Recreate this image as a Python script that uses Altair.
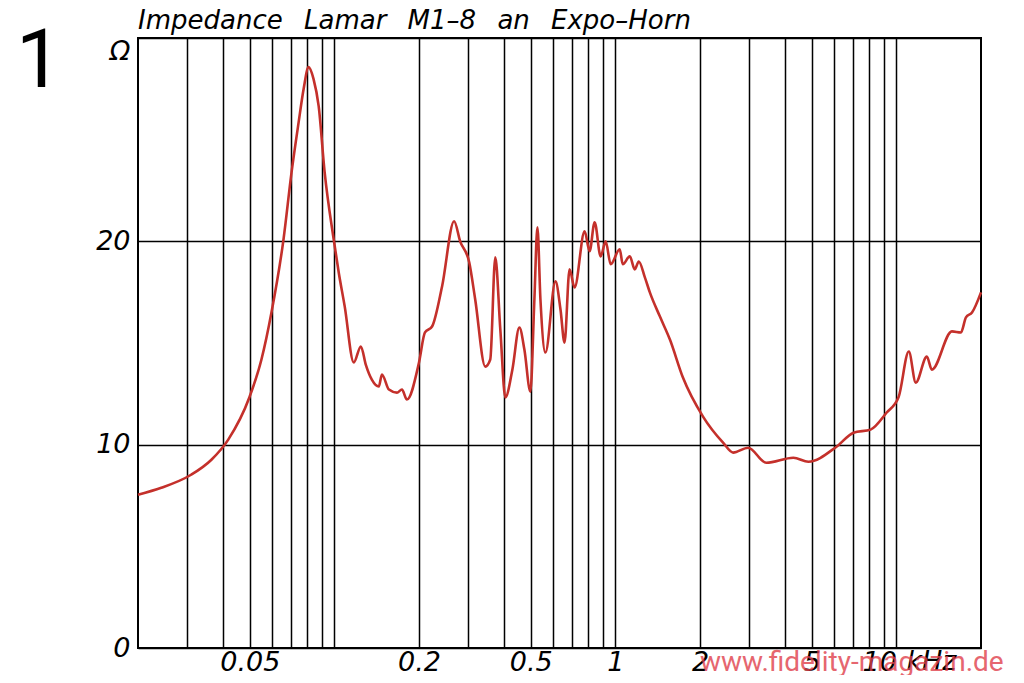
import altair as alt
import pandas as pd

# Frequency in kHz, impedance in Ohm
freq_khz = [0.020, 0.0242, 0.0309, 0.0365, 0.0419, 0.0498, 0.0550, 0.0597, 0.0659, 0.0704,
            0.0746, 0.0777, 0.0809, 0.0843, 0.0879, 0.0923, 0.0994, 0.1036, 0.1088, 0.1172,
            0.1242, 0.1293, 0.1359, 0.1439, 0.1476, 0.1563, 0.1669, 0.1739, 0.1812, 0.200,
            0.210, 0.2226, 0.2416, 0.2667, 0.2802, 0.3018, 0.317, 0.3442, 0.3586, 0.3737,
            0.3894, 0.4058, 0.4298, 0.4552, 0.4743, 0.4982, 0.5148, 0.5278, 0.541, 0.5636,
            0.612, 0.6376, 0.659, 0.6868, 0.7156, 0.777, 0.8094, 0.8434, 0.8862, 0.9234,
            0.9622, 1.036, 1.062, 1.125, 1.172, 1.211, 1.273, 1.326, 1.439, 1.563,
            1.739, 2.05, 2.416, 2.624, 2.968, 3.442, 4.298, 4.862, 6.12, 7.038,
            8.094, 9.234, 10.19, 11.07, 11.72, 12.83, 13.37, 15.76, 16.97, 17.68,
            18.58, 20.0]
impedance = [7.54, 7.88, 8.52, 9.26, 10.25, 12.32, 14.19, 16.50, 20.10, 23.40,
             25.86, 27.49, 28.57, 27.98, 26.65, 23.40, 20.10, 18.47, 16.80, 14.04,
             14.83, 13.94, 13.20, 12.86, 13.45, 12.71, 12.56, 12.71, 12.22, 14.04,
             15.52, 15.81, 17.78, 20.99, 20.00, 18.97, 17.14, 13.84, 14.19, 19.21,
             15.67, 12.32, 13.69, 15.76, 14.68, 12.61, 17.14, 20.69, 17.14, 14.53,
             18.03, 16.65, 15.02, 18.62, 17.73, 20.49, 19.51, 20.94, 19.26, 20.00,
             18.87, 19.61, 18.87, 19.26, 18.62, 19.01, 18.23, 17.49, 16.31, 15.17,
             13.30, 11.38, 10.10, 9.61, 9.85, 9.11, 9.36, 9.16, 9.90, 10.59,
             10.74, 11.58, 12.36, 14.58, 13.05, 14.33, 13.69, 15.57, 15.52, 16.26,
             16.50, 17.49]

grid_x = [0.03, 0.04, 0.05, 0.06, 0.07, 0.08, 0.09, 0.1, 0.2, 0.3, 0.4, 0.5, 0.6, 0.7,
          0.8, 0.9, 1, 2, 3, 4, 5, 6, 7, 8, 9, 10]
x_label_vals = [0.05, 0.2, 0.5, 1, 2, 5, 10]
x_label_txt = ["0.05", "0.2", "0.5", "1", "2", "5", "10"]
y_vals = [0, 10, 20, 30]
y_label_txt = ["0", "10", "20", "Ω"]

title_words = ["Impedance", "Lamar", "M1–8", "an", "Expo–Horn"]
fig_no = "1"
watermark = "www.fidelity-magazin.de"

title_txt = "\u2002\u00a0".join(title_words)

df = pd.DataFrame({"f": freq_khz, "z": impedance})

x_expr = " : ".join(f"datum.value == {v} ? '{t}'" for v, t in zip(x_label_vals, x_label_txt)) + " : ''"
y_expr = " : ".join(f"datum.value == {v} ? '{t}'" for v, t in zip(y_vals, y_label_txt)) + " : ''"

FONT = "DejaVu Sans"
ARIAL = "Roboto"

xaxis = alt.Axis(values=grid_x, labelExpr=x_expr, grid=True, gridColor="black", gridWidth=1.5,
                 gridOpacity=1, ticks=False, domain=False, title=None, labelFont=FONT,
                 labelFontSize=27, labelFontStyle="italic", labelPadding=22,
                 labelBaseline="alphabetic", labelOverlap=False,
                 labelAlign={"condition": {"test": "datum.value == 10", "value": "right"}, "value": "center"},
                 labelFlush=False, labelColor="black")
yaxis = alt.Axis(values=y_vals, labelExpr=y_expr, grid=True, gridColor="black", gridWidth=1.5,
                 gridOpacity=1, ticks=False, domain=False, title=None, labelFont=FONT,
                 labelFontSize=27, labelFontStyle="italic", labelPadding=8, labelColor="black",
                 labelFlush=False,
                 labelBaseline={"condition": {"test": "datum.value == 30", "value": "top"}, "value": "middle"})

line = alt.Chart(df).mark_line(color="#c4302b", strokeWidth=2.6, interpolate="monotone").encode(
    x=alt.X("f:Q", scale=alt.Scale(type="log", domain=[0.02, 20], nice=False), axis=xaxis),
    y=alt.Y("z:Q", scale=alt.Scale(domain=[0, 30], nice=False), axis=yaxis),
)

dummy = alt.Data(values=[{}])

khz = alt.Chart(dummy).mark_text(text="kHz", font=FONT, fontSize=27, fontStyle="italic",
                                 align="left", baseline="alphabetic", dx=10, dy=22, color="black").encode(
    x=alt.datum(10), y=alt.datum(0))

title = alt.Chart(dummy).mark_text(text=title_txt, font=FONT, fontSize=26, fontStyle="italic",
                                   align="left", baseline="alphabetic", color="black").encode(
    x=alt.value(0), y=alt.value(-9))

num = alt.Chart(dummy).mark_text(text=fig_no, font=ARIAL, fontSize=82,
                                 align="left", baseline="alphabetic", color="black").encode(
    x=alt.value(-122), y=alt.value(49))

wm = alt.Chart(dummy).mark_text(text=watermark, font=ARIAL, fontSize=28,
                                align="left", baseline="alphabetic", color="#e0404c", opacity=0.8).encode(
    x=alt.value(562), y=alt.value(633))

chart = alt.layer(line, khz, title, num, wm).properties(
    width=843, height=610, autosize="none",
    padding={"left": 130, "top": 30, "right": 35, "bottom": 27},
).configure_view(stroke="black", strokeWidth=2)

chart.save("out.html", embed_options={"renderer": "svg", "actions": False})
